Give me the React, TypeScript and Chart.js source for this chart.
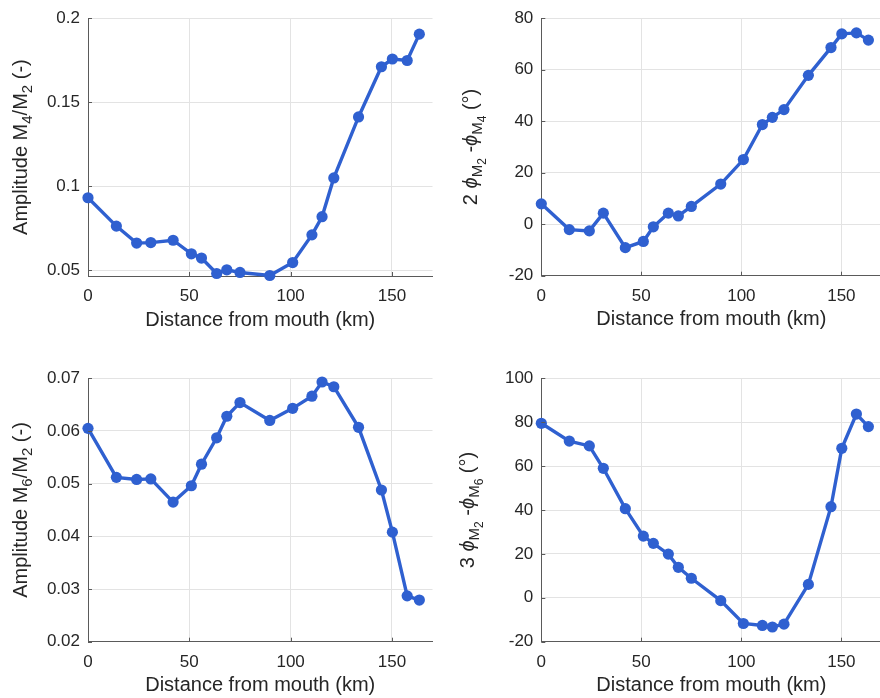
import React, { useEffect, useRef } from "react";
import { Chart, registerables } from "chart.js";

Chart.register(...registerables);

// Along-channel stations (km from the mouth)
const distanceKm = [0, 14, 24, 31, 42, 51, 56, 63.5, 68.5, 75, 89.7, 101, 110.5, 115.5, 121.3, 133.5, 144.8, 150.2, 157.5, 163.5];

// M4/M2 amplitude ratio (-)
const ampM4 = [0.0931, 0.0762, 0.0661, 0.0664, 0.0678, 0.0597, 0.0572, 0.048, 0.0502, 0.0486, 0.0468, 0.0545, 0.071, 0.0818, 0.1049, 0.1412, 0.1711, 0.1757, 0.1748, 0.1905];
// 2 phi_M2 - phi_M4 (deg)
const phaseM4 = [7.9, -2.1, -2.6, 4.3, -9.1, -6.7, -1.0, 4.3, 3.2, 6.9, 15.6, 25.1, 38.7, 41.5, 44.5, 57.8, 68.6, 73.9, 74.3, 71.5];
// M6/M2 amplitude ratio (-)
const ampM6 = [0.0605, 0.0512, 0.0508, 0.0509, 0.0465, 0.0496, 0.0537, 0.0587, 0.0628, 0.0654, 0.062, 0.0643, 0.0666, 0.0693, 0.0684, 0.0607, 0.0488, 0.0408, 0.0287, 0.0279];
// 3 phi_M2 - phi_M6 (deg)
const phaseM6 = [79.5, 71.4, 69.2, 59.0, 40.6, 28.1, 24.8, 19.9, 13.9, 8.9, -1.3, -11.7, -12.6, -13.3, -12.0, 6.1, 41.5, 68.1, 83.7, 78.0];

const xTicks = [0, 50, 100, 150];
const ampM4Ticks = [0.05, 0.1, 0.15, 0.2];
const phaseM4Ticks = [-20, 0, 20, 40, 60, 80];
const ampM6Ticks = [0.02, 0.03, 0.04, 0.05, 0.06, 0.07];
const phaseM6Ticks = [-20, 0, 20, 40, 60, 80, 100];

const xLabel = "Distance from mouth (km)";

const BLUE = "#2f60d0";
const AXIS = "#5a5a5a";
const GRID = "#e3e3e3";
const TEXT = "#262626";
const FAMILY = '"Liberation Sans", Arial, Helvetica, sans-serif';
const TICK_SIZE = 17;
const TITLE_SIZE = 20;

type Seg = { t: string; size: number; dy: number; italic?: boolean };

const main = (t: string): Seg => ({ t, size: TITLE_SIZE, dy: 0 });
const sub = (t: string): Seg => ({ t, size: 15, dy: 5 });
const subsub = (t: string): Seg => ({ t, size: 12, dy: 9 });
const phi = (): Seg => ({ t: "\u03d5", size: TITLE_SIZE, dy: 0, italic: true });

type Panel = {
  left: number;
  top: number;
  width: number;
  height: number;
  yAxisW: number;
  xAxisH: number;
  padTop: number;
  padRight: number;
  yMin: number;
  yMax: number;
  yTicks: number[];
  values: number[];
  title: Seg[];
  titleBaseX: number;
};

const panels: Panel[] = [
  {
    left: 0, top: 0, width: 440, height: 345,
    yAxisW: 88, xAxisH: 69, padTop: 12.3, padRight: 7.5,
    yMin: 0.0465, yMax: 0.2, yTicks: ampM4Ticks, values: ampM4,
    title: [main("Amplitude M"), sub("4"), main("/M"), sub("2"), main(" (-)")],
    titleBaseX: 26.5,
  },
  {
    left: 440, top: 0, width: 447, height: 345,
    yAxisW: 101.3, xAxisH: 69.3, padTop: 12.7, padRight: 0.6,
    yMin: -20, yMax: 80, yTicks: phaseM4Ticks, values: phaseM4,
    title: [main("2 "), phi(), sub("M"), subsub("2"), main(" -"), phi(), sub("M"), subsub("4"), main(" (\u00b0)")],
    titleBaseX: 37,
  },
  {
    left: 0, top: 350, width: 440, height: 348,
    yAxisW: 88, xAxisH: 56.3, padTop: 28.3, padRight: 7.5,
    yMin: 0.02, yMax: 0.07, yTicks: ampM6Ticks, values: ampM6,
    title: [main("Amplitude M"), sub("6"), main("/M"), sub("2"), main(" (-)")],
    titleBaseX: 26.5,
  },
  {
    left: 440, top: 350, width: 447, height: 348,
    yAxisW: 101.3, xAxisH: 56.3, padTop: 28.3, padRight: 0.6,
    yMin: -20, yMax: 100, yTicks: phaseM6Ticks, values: phaseM6,
    title: [main("3 "), phi(), sub("M"), subsub("2"), main(" -"), phi(), sub("M"), subsub("6"), main(" (\u00b0)")],
    titleBaseX: 34,
  },
];

function fontOf(s: Seg) {
  return `${s.italic ? "italic " : ""}${s.size}px ${FAMILY}`;
}

function PanelChart({ p }: { p: Panel }) {
  const ref = useRef<HTMLCanvasElement | null>(null);

  useEffect(() => {
    if (!ref.current) return;

    // Axis titles, inward tick marks
    const decorations = {
      id: "decorations",
      afterDraw(chart: any) {
        const { ctx, chartArea, scales } = chart;
        ctx.save();

        // inward tick marks
        ctx.strokeStyle = AXIS;
        ctx.lineWidth = 1;
        ctx.beginPath();
        for (const v of xTicks) {
          const x = Math.round(scales.x.getPixelForValue(v)) + 0.5;
          ctx.moveTo(x, chartArea.bottom);
          ctx.lineTo(x, chartArea.bottom - 4);
        }
        for (const v of p.yTicks) {
          const y = Math.round(scales.y.getPixelForValue(v)) + 0.5;
          ctx.moveTo(chartArea.left, y);
          ctx.lineTo(chartArea.left + 4, y);
        }
        ctx.stroke();

        // x title
        ctx.fillStyle = TEXT;
        ctx.font = `${TITLE_SIZE}px ${FAMILY}`;
        ctx.textAlign = "center";
        ctx.textBaseline = "middle";
        ctx.fillText(xLabel, (chartArea.left + chartArea.right) / 2, chartArea.bottom + 44);

        // rotated y title with subscripts
        ctx.textAlign = "left";
        ctx.textBaseline = "alphabetic";
        let total = 0;
        for (const s of p.title) {
          ctx.font = fontOf(s);
          total += ctx.measureText(s.t).width;
        }
        ctx.translate(p.titleBaseX, (chartArea.top + chartArea.bottom) / 2);
        ctx.rotate(-Math.PI / 2);
        let x = -total / 2;
        for (const s of p.title) {
          ctx.font = fontOf(s);
          ctx.fillText(s.t, x, s.dy);
          x += ctx.measureText(s.t).width;
        }
        ctx.restore();
      },
    };

    const tickFont = { family: FAMILY, size: TICK_SIZE };

    const chart = new Chart(ref.current, {
      type: "line",
      data: {
        datasets: [
          {
            data: distanceKm.map((d, i) => ({ x: d, y: p.values[i] })),
            borderColor: BLUE,
            backgroundColor: BLUE,
            borderWidth: 3.4,
            pointRadius: 5.6,
            pointHoverRadius: 5.6,
            pointBorderWidth: 0,
            pointBackgroundColor: BLUE,
            tension: 0,
            clip: false as any,
          },
        ],
      },
      options: {
        responsive: false,
        animation: false,
        events: [],
        layout: { padding: { top: p.padTop, right: p.padRight, left: 0, bottom: 0 } },
        plugins: { legend: { display: false }, tooltip: { enabled: false } },
        scales: {
          x: {
            type: "linear",
            min: 0,
            max: 170,
            afterBuildTicks: (s: any) => {
              s.ticks = xTicks.map((v) => ({ value: v }));
            },
            afterFit: (s: any) => {
              s.height = p.xAxisH;
            },
            grid: { color: GRID, lineWidth: 1, drawTicks: false },
            border: { color: AXIS, width: 1 },
            ticks: {
              font: tickFont,
              color: TEXT,
              padding: 10,
              autoSkip: false,
              maxRotation: 0,
              callback: (v: any) => String(v),
            },
          },
          y: {
            type: "linear",
            min: p.yMin,
            max: p.yMax,
            afterBuildTicks: (s: any) => {
              s.ticks = p.yTicks.map((v) => ({ value: v }));
            },
            afterFit: (s: any) => {
              s.width = p.yAxisW;
            },
            grid: { color: GRID, lineWidth: 1, drawTicks: false },
            border: { color: AXIS, width: 1 },
            ticks: {
              font: tickFont,
              color: TEXT,
              padding: 8,
              autoSkip: false,
              callback: (v: any) => String(v),
            },
          },
        },
      },
      plugins: [decorations],
    });

    return () => chart.destroy();
  }, [p]);

  return (
    <canvas
      ref={ref}
      width={p.width}
      height={p.height}
      style={{ position: "absolute", left: p.left, top: p.top, width: p.width, height: p.height }}
    />
  );
}

export default function App() {
  return (
    <div
      style={{
        position: "fixed",
        left: 0,
        top: 0,
        width: 880,
        height: 698,
        overflow: "hidden",
        background: "#ffffff",
      }}
    >
      {panels.map((p, i) => (
        <PanelChart key={i} p={p} />
      ))}
    </div>
  );
}
